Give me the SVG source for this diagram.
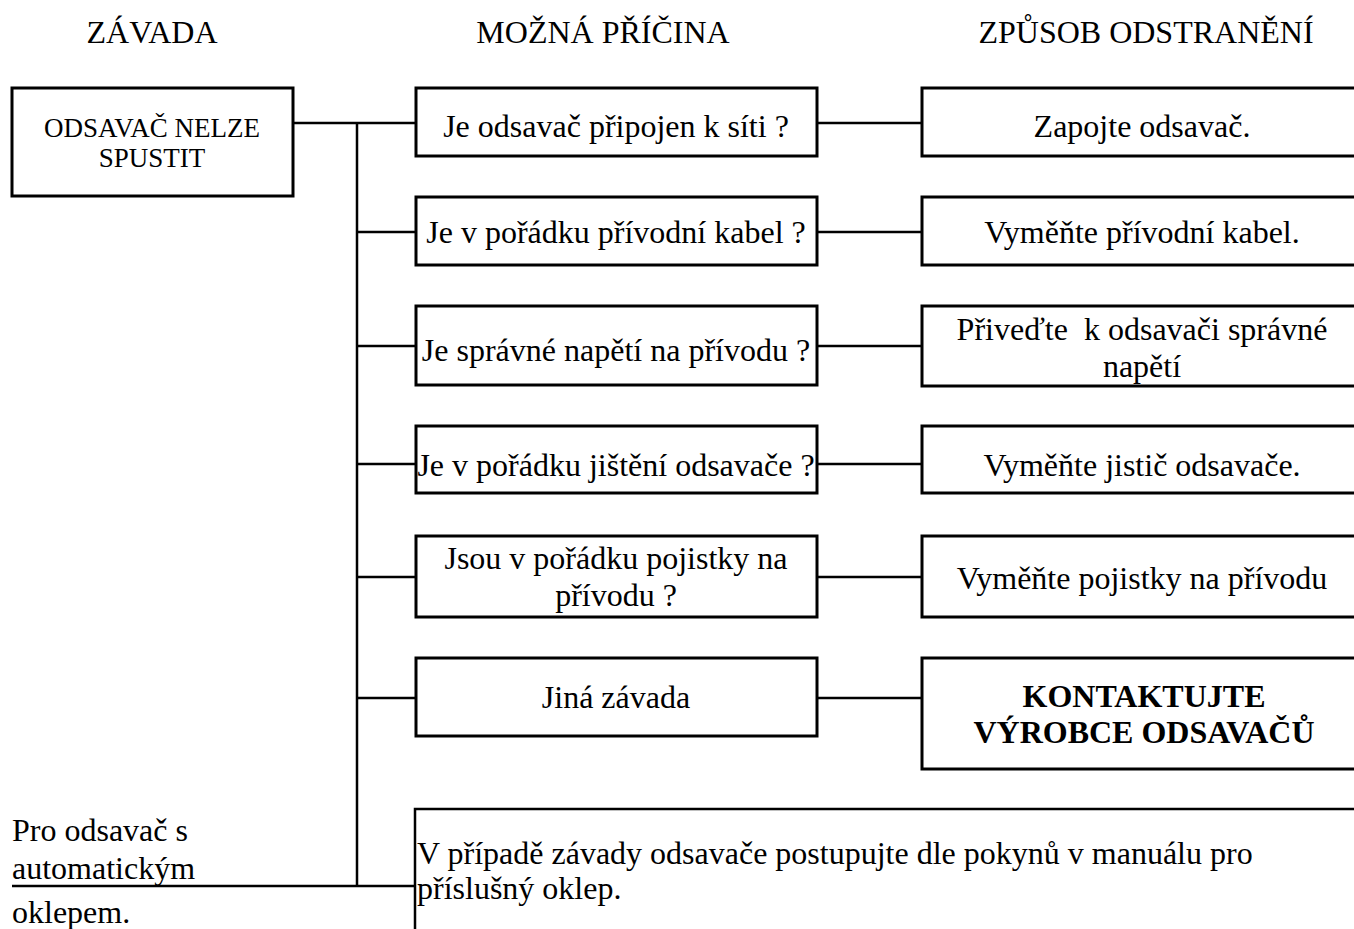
<svg xmlns="http://www.w3.org/2000/svg" width="1354" height="929" viewBox="0 0 1354 929">
<style>
text{font-family:"Liberation Serif","Times New Roman",serif;fill:#000;font-size:32px}
.c{text-anchor:middle}
.s{font-size:27px}
.b{font-weight:bold}
.box{fill:#fff;stroke:#000;stroke-width:3}
.ln{stroke:#000;stroke-width:2.5;fill:none}
</style>
<rect width="1354" height="929" fill="#fff"/>
<g id="headers">
<text class="c" x="152" y="43">ZÁVADA</text>
<text class="c" x="603" y="43">MOŽNÁ PŘÍČINA</text>
<text class="c" x="1146" y="43">ZPŮSOB ODSTRANĚNÍ</text>
</g>
<g id="connectors">
<path class="ln" d="M293 123H416M357 123V886M357 232H416M357 346H416M357 464H416M357 577H416M357 698H416"/>
<path class="ln" d="M817 123H922M817 232H922M817 346H922M817 464H922M817 577H922M817 698H922"/>
<path class="ln" d="M12 886H415"/>
</g>
<g id="fault"><rect class="box" x="12" y="88" width="281" height="108"/>
<text class="c s" x="152" y="137">ODSAVAČ NELZE</text><text class="c s" x="152" y="167">SPUSTIT</text></g>
<g id="cause1"><rect class="box" x="416" y="88" width="401" height="68"/><text class="c" x="616" y="137">Je odsavač připojen k síti ?</text></g>
<g id="cause2"><rect class="box" x="416" y="197" width="401" height="68"/><text class="c" x="616" y="243">Je v pořádku přívodní kabel ?</text></g>
<g id="cause3"><rect class="box" x="416" y="306" width="401" height="79"/><text class="c" x="616" y="361">Je správné napětí na přívodu ?</text></g>
<g id="cause4"><rect class="box" x="416" y="426" width="401" height="67"/><text class="c" x="616" y="476">Je v pořádku jištění odsavače ?</text></g>
<g id="cause5"><rect class="box" x="416" y="536" width="401" height="81"/><text class="c" x="616" y="569">Jsou v pořádku pojistky na</text><text class="c" x="616" y="606">přívodu ?</text></g>
<g id="cause6"><rect class="box" x="416" y="658" width="401" height="78"/><text class="c" x="616" y="708">Jiná závada</text></g>
<g id="fix1"><rect class="box" x="922" y="88" width="440" height="68"/><text class="c" x="1142" y="137">Zapojte odsavač.</text></g>
<g id="fix2"><rect class="box" x="922" y="197" width="440" height="68"/><text class="c" x="1142" y="243">Vyměňte přívodní kabel.</text></g>
<g id="fix3"><rect class="box" x="922" y="306" width="440" height="80"/><text class="c" x="1142" y="340" xml:space="preserve">Přiveďte  k odsavači správné</text><text class="c" x="1142" y="377">napětí</text></g>
<g id="fix4"><rect class="box" x="922" y="426" width="440" height="67"/><text class="c" x="1142" y="476">Vyměňte jistič odsavače.</text></g>
<g id="fix5"><rect class="box" x="922" y="536" width="440" height="81"/><text class="c" x="1142" y="589">Vyměňte pojistky na přívodu</text></g>
<g id="fix6"><rect class="box" x="922" y="658" width="440" height="111"/><text class="c b" x="1144" y="707">KONTAKTUJTE</text><text class="c b" x="1144" y="743">VÝROBCE ODSAVAČŮ</text></g>
<g id="note-left">
<text x="12" y="841">Pro odsavač s</text>
<text x="12" y="879">automatickým</text>
<text x="12" y="923">oklepem.</text>
</g>
<g id="note-box">
<path class="ln" d="M415 929V809H1354"/>
<text x="417" y="864">V případě závady odsavače postupujte dle pokynů v manuálu pro</text>
<text x="417" y="899">příslušný oklep.</text>
</g>
</svg>
